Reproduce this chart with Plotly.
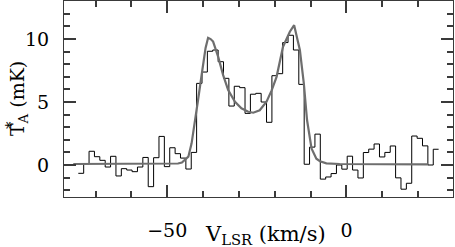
import plotly.graph_objects as go

# Spectrum channels (km/s) and antenna temperature (mK)
v_chan = [-74.05, -72.55, -71.05, -69.55, -68.05, -66.55, -65.05, -63.55, -62.05, -60.55,
          -59.05, -57.55, -56.05, -54.55, -53.05, -51.55, -50.05, -48.55, -47.05, -45.55,
          -44.05, -42.55, -41.05, -39.55, -38.05, -36.55, -35.05, -33.55, -32.05, -30.55,
          -29.05, -27.55, -26.05, -24.55, -23.05, -21.55, -20.05, -18.55, -17.05, -15.55,
          -14.05, -12.55, -11.05, -9.55, -8.05, -6.55, -5.05, -3.55, -2.05, -0.55,
          0.95, 2.45, 3.95, 5.45, 6.95, 8.45, 9.95, 11.45, 12.95, 14.45,
          15.95, 17.45, 18.95, 20.45, 21.95, 23.45, 24.95]
t_chan = [-0.66, 0.1, 1.09, 0.66, 0.37, -0.16, 0.69, -0.87, -0.29, -0.40,
          -0.53, -0.16, 0.6, -1.72, 0.58, 2.27, -0.13, 1.37, 0.9, 0.55,
          -0.32, 1.0, 6.48, 7.38, 9.03, 9.13, 8.2, 6.88, 4.68, 6.25,
          6.14, 4.1, 5.62, 5.69, 5.0, 3.39, 7.09, 7.25, 9.72, 10.3,
          9.13, 6.4, 0.06, 1.42, 2.45, -1.12, -0.95, -0.68, 0.0, -0.33,
          0.7, -0.4, -1.03, 0.99, 1.26, 1.67, 0.64, 1.0, 1.51, -1.02,
          -1.92, -1.45, 2.3, 2.12, 1.52, 0.0, 1.25]

# Fitted profile
fit_v = [-76.2, -60.0, -47.0, -45.9, -44.1, -43.2, -42.3, -41.4, -40.2, -39.3,
         -38.6, -37.9, -37.2, -35.8, -34.4, -33.0, -31.1, -29.3, -27.4, -26.0,
         -24.2, -22.3, -20.9, -19.5, -17.7, -15.8, -14.6, -13.0, -11.9, -11.0,
         -9.75, -8.4, -7.4, -5.6, -1.9, 10.0, 22.7]
fit_t = [0.08, 0.09, 0.12, 0.2, 0.66, 1.72, 3.3, 5.16, 7.54, 9.3,
         10.1, 10.0, 9.8, 8.6, 7.14, 5.95, 5.02, 4.5, 4.23, 4.15,
         4.35, 5.03, 5.9, 7.0, 9.39, 10.58, 11.1, 9.13, 6.48, 3.57,
         1.32, 0.5, 0.3, 0.13, 0.08, 0.06, 0.05]

# Tick positions and labels
x_major = [-50, 0]
x_major_text = ["\u221250", "0"]
x_minor = [-70, -60, -40, -30, -20, -10, 10, 20]
y_major = [0, 5, 10]
y_major_text = ["0", "5", "10"]
y_minor = [-2, -1, 1, 2, 3, 4, 6, 7, 8, 9, 11, 12, 13]

dv = v_chan[1] - v_chan[0]
x_step = [c - dv / 2 for c in v_chan] + [v_chan[-1] + dv / 2]
y_step = t_chan + [t_chan[-1]]

FONT = "DejaVu Serif"
AX = "#3a3a3a"

fig = go.Figure()
fig.add_trace(go.Scatter(x=x_step, y=y_step, mode="lines",
                         line=dict(color="black", width=1, shape="hv"),
                         hoverinfo="skip"))
fig.add_trace(go.Scatter(x=fit_v, y=fit_t, mode="lines",
                         line=dict(color="#6e6e6e", width=2.2),
                         hoverinfo="skip"))

axcommon = dict(showgrid=False, zeroline=False, showline=True, linecolor=AX,
                linewidth=1.2, mirror="allticks", ticks="inside", tickcolor=AX,
                tickwidth=1.5, ticklen=12, automargin=False,
                tickfont=dict(family=FONT, size=19, color="black"))

fig.update_xaxes(range=[-78.79, 29.71], tickmode="array", tickvals=x_major,
                 ticktext=x_major_text, ticklabelstandoff=16,
                 minor=dict(ticks="inside", ticklen=6, tickcolor=AX, tickwidth=1.5,
                            tickmode="array", tickvals=x_minor),
                 **axcommon)
fig.update_yaxes(range=[-2.54, 13.02], tickmode="array", tickvals=y_major,
                 ticktext=y_major_text, ticklabelstandoff=10,
                 minor=dict(ticks="inside", ticklen=6, tickcolor=AX, tickwidth=1.5,
                            tickmode="array", tickvals=y_minor),
                 **axcommon)

fig.add_annotation(text="V<sub>LSR</sub> (km/s)", xref="paper", yref="paper",
                   x=0.517, y=-0.115, xanchor="center", yanchor="top", showarrow=False,
                   font=dict(family=FONT, size=21, color="black"))
fig.add_annotation(text="T<sub>A</sub> (mK)", xref="paper", yref="paper",
                   x=-0.118, y=0.5, xanchor="center", yanchor="middle", showarrow=False,
                   textangle=-90, font=dict(family=FONT, size=19, color="black"))
fig.add_annotation(text="*", xref="paper", yref="paper",
                   x=-0.135, y=0.37, xanchor="center", yanchor="middle", showarrow=False,
                   textangle=-90, font=dict(family=FONT, size=15, color="black"))

fig.update_layout(width=455, height=247, margin=dict(l=64, r=2, t=1, b=50),
                  paper_bgcolor="white", plot_bgcolor="white", showlegend=False)

fig.write_html("out.html", config={"displayModeBar": False},
               post_script="document.body.style.margin='0';")
